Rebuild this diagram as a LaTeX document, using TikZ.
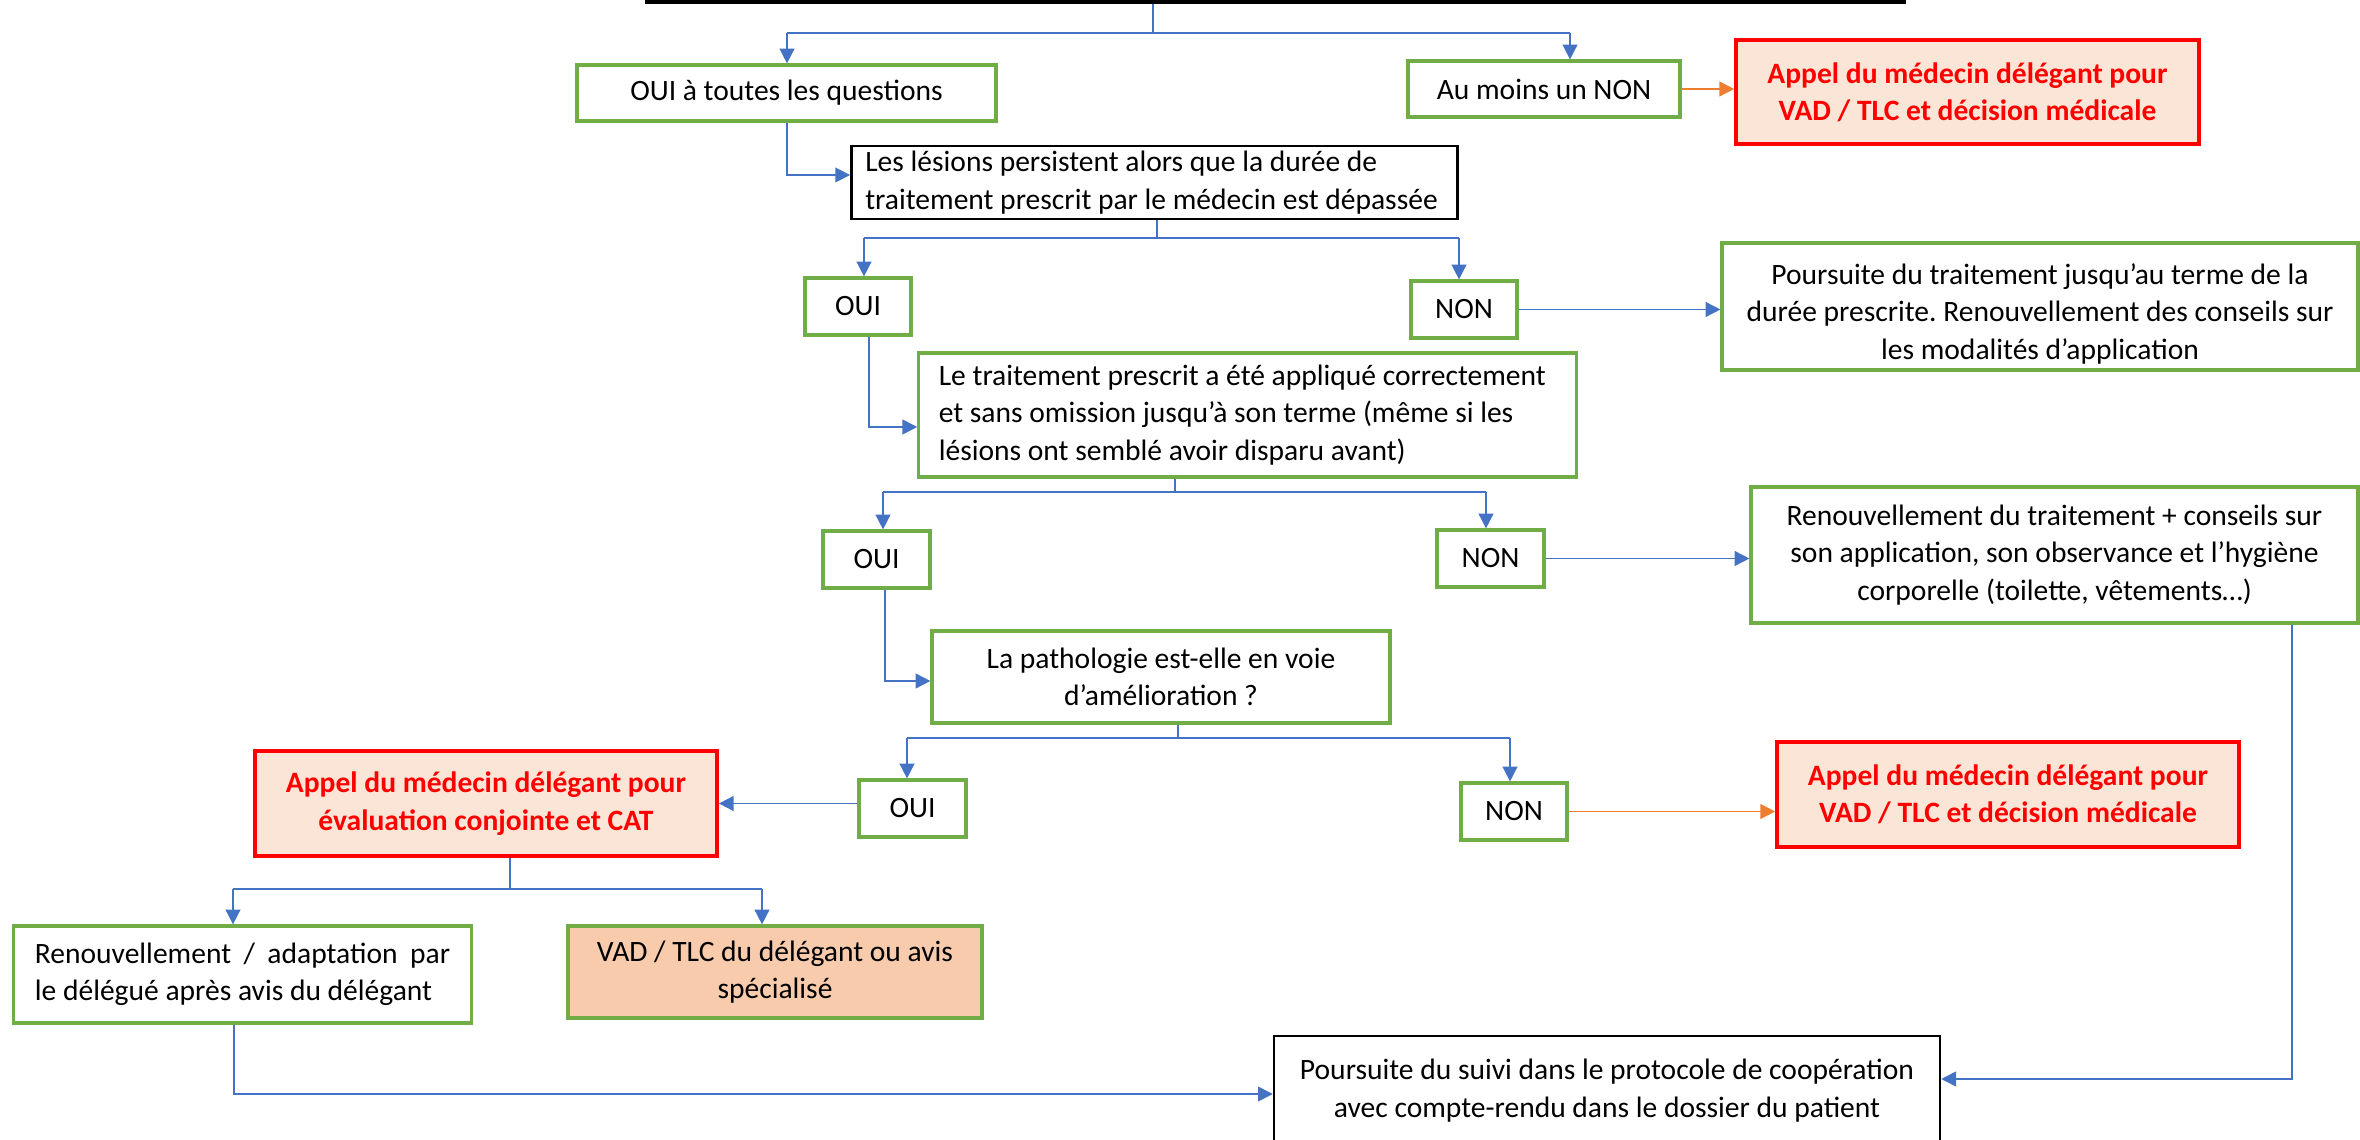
\documentclass[tikz,border=0pt]{standalone}
\usepackage{fontspec}
\setmainfont{Carlito}
\usetikzlibrary{arrows.meta,calc}
\definecolor{linkblue}{HTML}{4472C4}
\definecolor{boxgreen}{HTML}{70AD47}
\definecolor{alertred}{HTML}{FF0000}
\definecolor{alertfill}{HTML}{FBE5D6}
\definecolor{peach}{HTML}{F8CBAD}
\definecolor{floworange}{HTML}{ED7D31}
\frenchspacing

\begin{document}
\begin{tikzpicture}[x=0.01cm,y=-0.01cm,
  dims/.style 2 args={minimum width=#1*0.01cm, minimum height=#2*0.01cm},
  base/.style={rectangle, inner sep=0pt, align=center,
    font=\fontsize{8.4}{10.6}\selectfont},
  greenbox/.style={base, draw=boxgreen, line width=0.9pt},
  blackbox/.style={base, draw=black, line width=0.7pt},
  redbox/.style={base, draw=alertred, line width=1.05pt, fill=alertfill,
    text=alertred, font=\fontsize{8.4}{10.6}\selectfont\bfseries},
  conn/.style={draw=linkblue, line width=0.45pt},
  connthick/.style={draw=linkblue, line width=0.75pt},
  arr/.style={conn, -{Triangle[length=4.2pt,width=4.2pt]}},
  orarr/.style={draw=floworange, line width=0.5pt, -{Triangle[length=4.2pt,width=4.2pt]}}
]
\useasboundingbox (0,0) rectangle (2360,1140);
\clip (0,0) rectangle (2360,1140);
\fill[white] (0,0) rectangle (2360,1140);

% ---------- boxes ----------
\node[draw=black, line width=1.2pt, inner sep=0pt, dims={1257}{104}] (top) at (1275.5,-50) {};

\node[greenbox, dims={419}{56}] (q1yes) at (786.5,93) {OUI à toutes les questions};
\node[greenbox, dims={272}{56}] (q1no) at (1544,89) {Au moins un NON};
\node[redbox, dims={463}{104}] (red1) at (1967.5,92)
  {Appel du médecin délégant pour\\VAD / TLC et décision médicale};

\node[blackbox, align=left, inner xsep=0.14cm, minimum height=0.73cm]
  (lesions) at (1154.5,182.5)
  {\makebox[5.78cm][l]{Les lésions persistent alors que la durée de}\\traitement prescrit par le médecin est dépassée};

\node[greenbox, dims={106}{57}] (oui1) at (858,306.5) {OUI};
\node[greenbox, dims={106}{57}] (non1) at (1464,309.5) {NON};
\node[greenbox, dims={636}{127}] (pours1) at (2040,306.5)
  {\rule{0pt}{0.356cm}Poursuite du traitement jusqu’au terme de la\\durée prescrite. Renouvellement des conseils sur\\les modalités d’application};

\node[greenbox, align=left, inner xsep=0.2cm, minimum height=1.24cm]
  (trait) at (1247.5,415)
  {\makebox[6.17cm][l]{Le traitement prescrit a été appliqué correctement}\\et sans omission jusqu’à son terme (même si les\\lésions ont semblé avoir disparu avant)};

\node[greenbox, dims={107}{57}] (oui2) at (876.5,559.5) {OUI};
\node[greenbox, dims={107}{57}] (non2) at (1490.5,558.5) {NON};
\node[greenbox, dims={607}{136}] (renouv) at (2054.5,555)
  {Renouvellement du traitement + conseils sur\\son application, son observance et l’hygiène\\corporelle (toilette, vêtements…)};

\node[greenbox, dims={458}{92}] (patho) at (1161,677)
  {La pathologie est-elle en voie\\d’amélioration ?};

\node[greenbox, dims={107}{57}] (oui3) at (912.5,808.5) {OUI};
\node[greenbox, dims={106}{57}] (non3) at (1514,811.5) {NON};
\node[redbox, dims={462}{105}] (red3) at (2008,794.5)
  {Appel du médecin délégant pour\\VAD / TLC et décision médicale};
\node[redbox, dims={462}{105}] (red2) at (486,803.5)
  {Appel du médecin délégant pour\\évaluation conjointe et CAT};

\node[greenbox, align=left, inner xsep=0.21cm, minimum height=0.97cm]
  (adapt) at (242.5,974.5)
  {\hbox to 4.15cm{Renouvellement\hfill/\hfill adaptation\hfill par}\\le délégué après avis du délégant};
\node[greenbox, fill=peach, dims={414}{92}] (vad) at (775,972)
  {VAD / TLC du délégant ou avis\\spécialisé};

\node[blackbox, dims={666}{109}] (final) at (1607,1090.5)
  {Poursuite du suivi dans le protocole de coopération\\avec compte-rendu dans le dossier du patient};

% ---------- branch points ----------
\coordinate (s1) at (1153,33);
\coordinate (b1l) at (787,33);
\coordinate (b1r) at (1570,33);
\coordinate (c1) at (787,175);
\coordinate (s2) at (1157,238);
\coordinate (b2l) at (864,238);
\coordinate (b2r) at (1459,238);
\coordinate (f1) at (869,427);
\coordinate (s3) at (1175,492);
\coordinate (b3l) at (883,492);
\coordinate (b3r) at (1486,492);
\coordinate (i1) at (885,681);
\coordinate (s4) at (1178,738);
\coordinate (b4l) at (907,738);
\coordinate (b4r) at (1510,738);
\coordinate (s5) at (510,889);
\coordinate (b5l) at (233,889);
\coordinate (b5r) at (762,889);
\coordinate (a1) at (234,1094);
\coordinate (r1) at (2292,1079);

% ---------- connectors ----------
\draw[conn] (top.south -| s1) -- (s1);
\draw[conn] (b1l) -- (b1r);
\draw[arr] (b1l) -- (b1l |- q1yes.north);
\draw[arr] (b1r) -- (b1r |- q1no.north);
\draw[orarr] (q1no.east) -- (q1no.east -| red1.west);

\draw[arr] (q1yes.south -| c1) -- (c1) -- (c1 -| lesions.west);

\draw[conn] (lesions.south -| s2) -- (s2);
\draw[connthick] (b2l) -- (b2r);
\draw[arr] (b2l) -- (b2l |- oui1.north);
\draw[arr] (b2r) -- (b2r |- non1.north);
\draw[arr] (non1.east) -- (non1.east -| pours1.west);

\draw[arr] (oui1.south -| f1) -- (f1) -- (f1 -| trait.west);

\draw[conn] (trait.south -| s3) -- (s3);
\draw[conn] (b3l) -- (b3r);
\draw[arr] (b3l) -- (b3l |- oui2.north);
\draw[arr] (b3r) -- (b3r |- non2.north);
\draw[arr] (non2.east) -- (non2.east -| renouv.west);

\draw[arr] (oui2.south -| i1) -- (i1) -- (i1 -| patho.west);

\draw[conn] (patho.south -| s4) -- (s4);
\draw[conn] (b4l) -- (b4r);
\draw[arr] (b4l) -- (b4l |- oui3.north);
\draw[arr] (b4r) -- (b4r |- non3.north);
\draw[orarr] (non3.east) -- (non3.east -| red3.west);
\draw[arr] (oui3.west |- red2.east) -- (red2.east);

\draw[conn] (red2.south -| s5) -- (s5);
\draw[connthick] (b5l) -- (b5r);
\draw[arr] (b5l) -- (b5l |- adapt.north);
\draw[arr] (b5r) -- (b5r |- vad.north);

\draw[arr] (adapt.south -| a1) -- (a1) -- (a1 -| final.west);
\draw[arr] (renouv.south -| r1) -- (r1) -- (r1 -| final.east);
\end{tikzpicture}
\end{document}
